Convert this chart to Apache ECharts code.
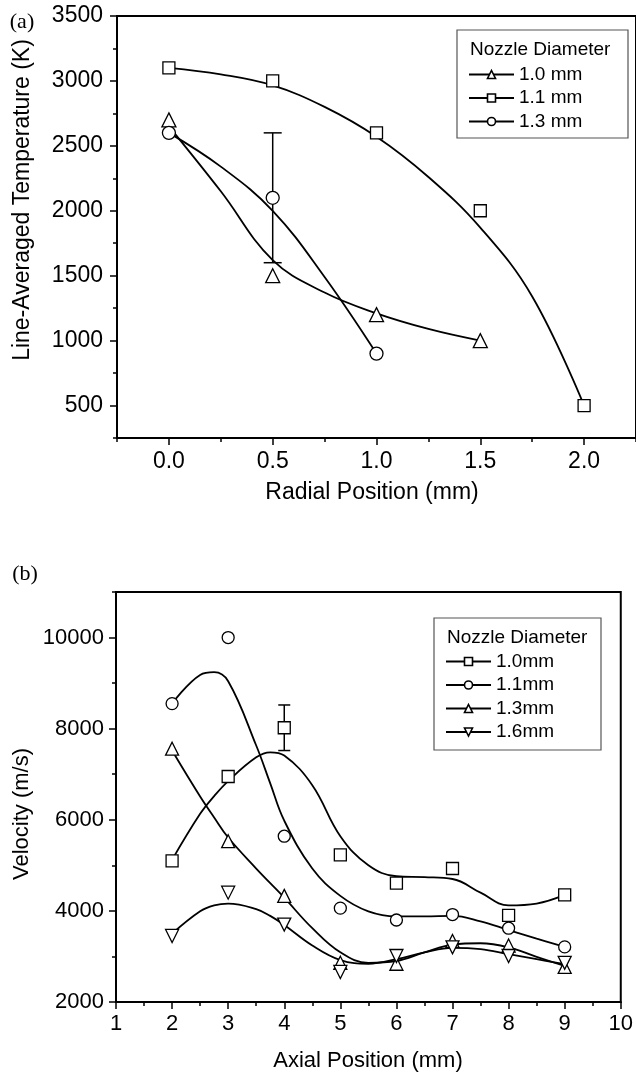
<!DOCTYPE html>
<html>
<head>
<meta charset="utf-8">
<script src="https://cdn.jsdelivr.net/npm/echarts@6/dist/echarts.min.js"></script>
<style>
  html, body { margin: 0; padding: 0; background: #fff; }
  #chart { width: 636px; height: 1074px; }
</style>
</head>
<body>
<div id="chart"></div>
<script>
// (a) line-averaged temperature vs radial position
const radialPos = [0, 0.5, 1.0, 1.5, 2.0]
const temp10 = [2700, 1500, 1200, 1000]
const temp11 = [3100, 3000, 2600, 2000, 500]
const temp13 = [2600, 2100, 900]
// fitted curves at these positions
const fitRadial = [0, 0.25, 0.5, 0.75, 1.0, 1.25, 1.5, 1.75, 2.0]
const fitTemp10 = [2650, 2150, 1620, 1370, 1210, 1090, 1000]
const fitTemp11 = [3100, 3050, 2965, 2800, 2570, 2260, 1870, 1340, 500]
const fitTemp13 = [2600, 2340, 2000, 1490, 900]
const errRadial = [0.5]
const errTempLow = [1600]
const errTempHigh = [2600]
const tempTicks = [500, 1000, 1500, 2000, 2500, 3000, 3500]
const tempMinorTicks = [250, 750, 1250, 1750, 2250, 2750, 3250]
const radialTicks = [0, 0.5, 1.0, 1.5, 2.0]
const radialMinorTicks = [-0.25, 0.25, 0.75, 1.25, 1.75, 2.25]
const legendA = ['1.0 mm', '1.1 mm', '1.3 mm']

// (b) velocity vs axial position
const axialPos = [2, 3, 4, 5, 6, 7, 8, 9]
const vel10 = [5100, 6950, 8020, 5230, 4610, 4930, 3900, 4350]
const vel11 = [8550, 10000, 5640, 4060, 3800, 3920, 3620, 3210]
const vel13 = [7560, 5530, 4330, 2860, 2840, 3340, 3240, 2770]
const vel16 = [3450, 4400, 3700, 2660, 3010, 3200, 3010, 2860]
const fitAxial = [2, 2.5, 2.75, 3, 3.5, 3.75, 4, 4.5, 5, 5.5, 6, 6.5, 7, 7.5, 8, 8.5, 9]
const fitVel10 = [5120, 6130, 6520, 6850, 7370, 7480, 7410, 6760, 5640, 5000, 4760, 4740, 4700, 4400, 4120, 4160, 4350]
const fitVel11 = [8550, 9180, 9240, 9040, 7630, 6800, 5980, 4930, 4330, 3990, 3880, 3880, 3890, 3770, 3580, 3390, 3210]
const fitVel13 = [7520, 6510, 6050, 5610, 4930, 4610, 4290, 3620, 3090, 2860, 2900, 3090, 3260, 3290, 3200, 2990, 2790]
const fitVel16 = [3500, 3990, 4120, 4160, 4040, 3890, 3690, 3240, 2920, 2840, 2940, 3090, 3190, 3160, 3050, 2940, 2830]
const errAxial = [4]
const errVelLow = [7520]
const errVelHigh = [8520]
const velTicks = [2000, 4000, 6000, 8000, 10000]
const velMinorTicks = [3000, 5000, 7000, 9000, 11000]
const axialTicks = [1, 2, 3, 4, 5, 6, 7, 8, 9, 10]
const axialMinorTicks = [1.5, 2.5, 3.5, 4.5, 5.5, 6.5, 7.5, 8.5, 9.5]
const legendB = ['1.0mm', '1.1mm', '1.3mm', '1.6mm']

const FONT = 'Liberation Sans, Arial, sans-serif'
const SERIF = 'Liberation Serif, Times New Roman, serif'
const DOWN_TRI = 'path://M0 0L2 0L1 2Z'

const pairs = (xs, ys) => ys.map((y, i) => [xs[i], y])

const chart = echarts.init(document.getElementById('chart'))

function mainAxis(gridIndex, position, min, max, ticks, fontSize, margin, fmt) {
  return {
    type: 'value', gridIndex, position, min, max,
    axisLine: { show: true, onZero: false, lineStyle: { color: '#000', width: 2 } },
    axisTick: { show: true, inside: false, length: 7, customValues: ticks, lineStyle: { color: '#000', width: 1.5 } },
    axisLabel: { customValues: ticks, color: '#000', fontFamily: FONT, fontSize, margin, formatter: fmt },
    splitLine: { show: false },
  }
}

// second axis on the same side, only for the short minor ticks
function minorAxis(gridIndex, position, min, max, ticks) {
  return {
    type: 'value', gridIndex, position, offset: 0, min, max,
    axisLine: { show: false, onZero: false },
    axisTick: { show: true, inside: false, length: 4, customValues: ticks, lineStyle: { color: '#000', width: 1.5 } },
    axisLabel: { show: false },
    splitLine: { show: false },
  }
}

function curve(name, xs, ys, symbol, xi) {
  return {
    name, type: 'line', xAxisIndex: xi, yAxisIndex: xi,
    data: pairs(xs, ys), smooth: 0.4, showSymbol: false, symbol,
    lineStyle: { color: '#000', width: 1.8 },
    itemStyle: { color: '#fff', borderColor: '#000', borderWidth: 1.5 },
    silent: true, z: 2,
  }
}

function points(name, xs, ys, symbol, size, xi) {
  return {
    name, type: 'scatter', xAxisIndex: xi, yAxisIndex: xi,
    data: pairs(xs, ys), symbol, symbolSize: size,
    itemStyle: { color: '#fff', borderColor: '#000', borderWidth: 1.3, opacity: 1 },
    silent: true, z: 4,
  }
}

function errorBars(xs, lows, highs, cap, xi) {
  return {
    type: 'custom', xAxisIndex: xi, yAxisIndex: xi, z: 3, silent: true,
    data: xs.map((x, i) => [x, lows[i], highs[i]]),
    renderItem: (params, api) => {
      const lo = api.coord([api.value(0), api.value(1)])
      const hi = api.coord([api.value(0), api.value(2)])
      const style = { stroke: '#000', lineWidth: 1.5 }
      return {
        type: 'group',
        children: [
          { type: 'line', shape: { x1: lo[0], y1: lo[1], x2: hi[0], y2: hi[1] }, style },
          { type: 'line', shape: { x1: hi[0] - cap, y1: hi[1], x2: hi[0] + cap, y2: hi[1] }, style },
          { type: 'line', shape: { x1: lo[0] - cap, y1: lo[1], x2: lo[0] + cap, y2: lo[1] }, style },
        ],
      }
    },
  }
}

function label(text, x, y, size, family, rotation) {
  return {
    type: 'text', x, y, rotation: rotation || 0,
    style: { text, fill: '#000', fontFamily: family, fontSize: size, align: 'center', verticalAlign: 'middle', textAlign: 'center', textVerticalAlign: 'middle' },
  }
}

function legendBlock(left, top, names) {
  return {
    data: names, orient: 'vertical', left, top, padding: 0,
    itemWidth: 45, itemHeight: 10, itemGap: 4.5, selectedMode: false,
    textStyle: { color: '#000', fontFamily: FONT, fontSize: 19 },
    lineStyle: { color: '#000', width: 2 },
    itemStyle: { color: '#fff', borderColor: '#000', borderWidth: 1.6 },
  }
}

const option = {
  animation: false,
  backgroundColor: '#fff',
  grid: [
    { left: 117, top: 16, width: 522, height: 422, show: true, borderColor: '#000', borderWidth: 2 },
    { left: 116, top: 592, width: 505, height: 410, show: true, borderColor: '#000', borderWidth: 2 },
  ],
  xAxis: [
    mainAxis(0, 'bottom', -0.25, 2.25, radialTicks, 23, 12, (v) => v.toFixed(1)),
    minorAxis(0, 'bottom', -0.25, 2.25, radialMinorTicks),
    mainAxis(1, 'bottom', 1, 10, axialTicks, 22, 11, (v) => String(v)),
    minorAxis(1, 'bottom', 1, 10, axialMinorTicks),
  ],
  yAxis: [
    mainAxis(0, 'left', 250, 3500, tempTicks, 23, 14, (v) => String(v)),
    minorAxis(0, 'left', 250, 3500, tempMinorTicks),
    mainAxis(1, 'left', 2000, 11000, velTicks, 22, 12, (v) => String(v)),
    minorAxis(1, 'left', 2000, 11000, velMinorTicks),
  ],
  legend: [legendBlock(468, 65, legendA), legendBlock(445, 652, legendB)],
  series: [
    curve('1.0 mm', fitRadial, fitTemp10, 'triangle', 0),
    curve('1.1 mm', fitRadial, fitTemp11, 'rect', 0),
    curve('1.3 mm', fitRadial, fitTemp13, 'circle', 0),
    errorBars(errRadial, errTempLow, errTempHigh, 9, 0),
    points('1.0 mm pts', radialPos, temp10, 'triangle', 14, 0),
    points('1.1 mm pts', radialPos, temp11, 'rect', 12, 0),
    points('1.3 mm pts', radialPos, temp13, 'circle', 13, 0),

    curve('1.0mm', fitAxial, fitVel10, 'rect', 2),
    curve('1.1mm', fitAxial, fitVel11, 'circle', 2),
    curve('1.3mm', fitAxial, fitVel13, 'triangle', 2),
    curve('1.6mm', fitAxial, fitVel16, DOWN_TRI, 2),
    errorBars(errAxial, errVelLow, errVelHigh, 6, 2),
    points('1.0mm pts', axialPos, vel10, 'rect', 12, 2),
    points('1.1mm pts', axialPos, vel11, 'circle', 12, 2),
    points('1.3mm pts', axialPos, vel13, 'triangle', 13, 2),
    points('1.6mm pts', axialPos, vel16, DOWN_TRI, 13, 2),
  ],
  graphic: [
    label('(a)', 22, 22, 22, SERIF),
    label('(b)', 25, 574, 22, SERIF),
    label('Line-Averaged Temperature (K)', 23, 200, 23, FONT, Math.PI / 2),
    label('Radial Position (mm)', 372, 493, 23, FONT),
    label('Velocity (m/s)', 22, 814, 22, FONT, Math.PI / 2),
    label('Axial Position (mm)', 368, 1061, 22, FONT),
    { type: 'rect', shape: { x: 457, y: 30, width: 171, height: 108 }, style: { fill: '#fff', stroke: '#555', lineWidth: 1.2 }, z: 1 },
    { type: 'rect', shape: { x: 434, y: 618, width: 167, height: 132 }, style: { fill: '#fff', stroke: '#555', lineWidth: 1.2 }, z: 1 },
    { type: 'text', x: 470, y: 50, style: { text: 'Nozzle Diameter', fill: '#000', fontFamily: FONT, fontSize: 19, verticalAlign: 'middle', textVerticalAlign: 'middle' }, z: 2 },
    { type: 'text', x: 447, y: 638, style: { text: 'Nozzle Diameter', fill: '#000', fontFamily: FONT, fontSize: 19, verticalAlign: 'middle', textVerticalAlign: 'middle' }, z: 2 },
  ],
}

chart.setOption(option)
</script>
</body>
</html>
